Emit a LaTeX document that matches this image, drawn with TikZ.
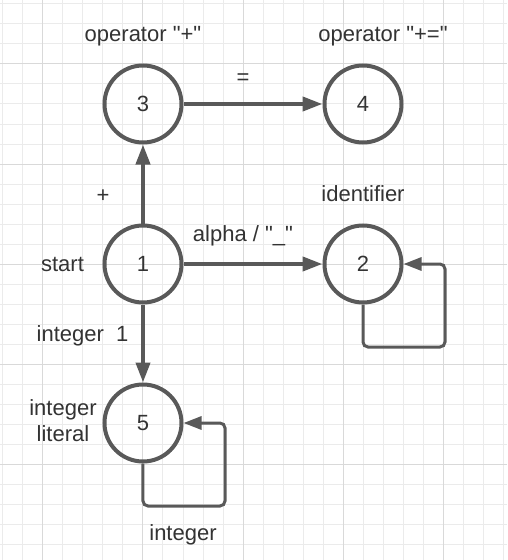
\documentclass[tikz,border=0pt]{standalone}
\usepackage{fontspec}
\setmainfont{Liberation Sans}[Ligatures=TeXOff]
\usetikzlibrary{arrows.meta,positioning}

\definecolor{edgegray}{HTML}{595959}
\definecolor{textgray}{HTML}{333333}
\definecolor{gridminor}{HTML}{EBEBEB}
\definecolor{gridmajor}{HTML}{D9D9D9}

\begin{document}
\begin{tikzpicture}[
			>={Triangle[length=20pt,width=14pt]},
			font=\fontsize{22}{26}\selectfont,
			text=textgray,
			state/.style={draw=edgegray, circle, line width=4pt, minimum size=77pt, inner sep=0pt},
			trans/.style={->, draw=edgegray, line width=4pt},
			self loop/.style={-{Triangle[length=18pt,width=13pt]}, draw=edgegray, line width=3pt, rounded corners=5pt},
			tag/.style={text height=16pt, text depth=5pt, inner sep=0pt},
			node distance=160pt and 220pt, on grid
	]
	% >> grid paper
	\useasboundingbox (-143pt,-296pt) rectangle (364pt,264pt);
	\draw[gridminor, line width=1pt] (-143pt,-296pt) grid[step=20pt] (364pt,264pt);
	\draw[gridmajor, line width=1pt] (-143pt,-296pt) grid[step=100pt] (364pt,264pt);

	% >> states
	\node[state] (n1) at (0,0) {1};
	\node[state, above=of n1] (n3) {3};
	\node[state, right=of n1] (n2) {2};
	\node[state, right=of n3] (n4) {4};
	\node[state, below=159pt of n1] (n5) {5};

	\node[tag, above=67.5pt of n3] (l3) {operator "+"};
	\node[tag, above=67.5pt of n4, xshift=20pt] (l4) {operator "+="};
	\node[tag, above=68.5pt of n2] (l2) {identifier};
	\node[tag, left=80.5pt of n1, yshift=-1.5pt] (l1) {start};
	\node[align=center, inner sep=0pt, left=80pt of n5, yshift=2pt] (l5) {integer\\literal};
	\node[tag, below=111.5pt of n5, xshift=40pt] (l5loop) {integer};

	% >> transitions
	\draw[trans] (n3) -- node[tag, xshift=-10pt, yshift=25pt] {=} (n4);
	\draw[trans] (n1) -- node[tag, xshift=-40pt, yshift=-12.5pt] {+} (n3);
	\draw[trans] (n1) -- node[tag, xshift=-10pt, yshift=28.5pt] {alpha / "\_"} (n2);
	\draw[trans] (n1) -- node[tag, xshift=-60.5pt, yshift=8pt] {integer\ \ 1} (n5);

	\coordinate (c2) at ([shift={(82pt,-83pt)}]n2.center);
	\coordinate (c5) at ([shift={(82pt,-83pt)}]n5.center);
	\draw[self loop] (n2.south) |- (c2) |- (n2.east);
	\draw[self loop] (n5.south) |- (c5) |- (n5.east);
\end{tikzpicture}
\end{document}
